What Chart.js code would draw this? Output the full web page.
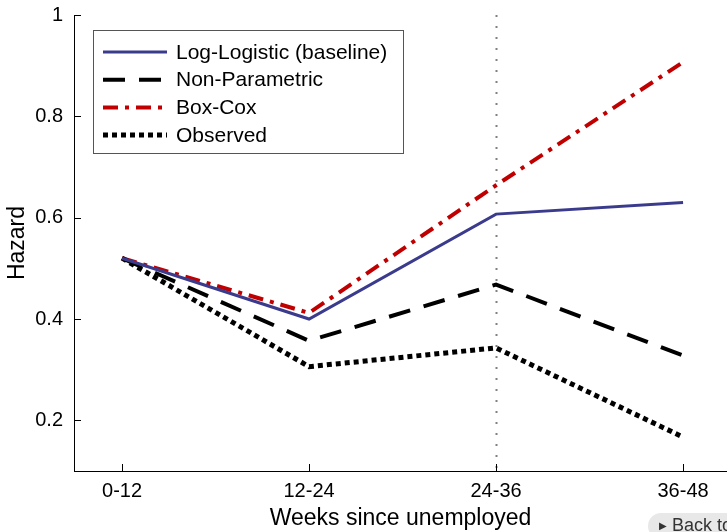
<!DOCTYPE html>
<html>

<head>
    <meta charset="utf-8">
    <script src="https://cdn.jsdelivr.net/npm/chart.js@4/dist/chart.umd.min.js"></script>
    <style>
        body { margin: 0; overflow: hidden; background: #fff; }
        #box { position: relative; width: 727px; height: 532px; }
        #back {
            position: absolute; left: 648px; top: 513px; height: 26px; width: 120px;
            border-radius: 13px; background: #e8e8e8; color: #333;
            font: 18px "Liberation Sans", Arial, sans-serif; line-height: 24px;
            padding-left: 11px; white-space: nowrap; box-sizing: border-box;
        }
        #back span { font-size: 10px; vertical-align: 2px; margin-right: 5px; }
    </style>
</head>

<body>
    <div id="box">
        <canvas id="wykres" width="727" height="532"></canvas>
        <div id="back"><span>&#9654;</span>Back to top</div>
    </div>
    <script>
        // hazard by unemployment duration, four models
        const weeks = ["0-12", "12-24", "24-36", "36-48"];
        const logLogistic = [0.52, 0.40, 0.607, 0.63];
        const nonParametric = [0.52, 0.357, 0.468, 0.328];
        const boxCox = [0.52, 0.412, 0.664, 0.907];
        const observed = [0.52, 0.306, 0.343, 0.167];
        const hazardTicks = [0.2, 0.4, 0.6, 0.8, 1];
        const markedWeek = 2; // dotted vertical line at 24-36

        const font = "'Liberation Sans', Arial, sans-serif";

        function punkty(values) {
            return values.map((v, i) => ({ x: i, y: v }));
        }

        const dane = {
            datasets: [
                { label: "Log-Logistic (baseline)", data: punkty(logLogistic), borderColor: "#3b3b8e", borderWidth: 3 },
                { label: "Non-Parametric", data: punkty(nonParametric), borderColor: "#000", borderWidth: 4, borderDash: [22, 14] },
                { label: "Box-Cox", data: punkty(boxCox), borderColor: "#c00000", borderWidth: 4, borderDash: [15, 7, 4, 7] },
                { label: "Observed", data: punkty(observed), borderColor: "#000", borderWidth: 5, borderDash: [5, 4] }
            ]
        };

        // inward tick marks, the vertical marker and the boxed legend
        const dodatki = {
            id: "dodatki",
            beforeDatasetsDraw(chart) {
                const { ctx, chartArea: a, scales: { x } } = chart;
                const px = Math.round(x.getPixelForValue(markedWeek)) + 0.5;
                ctx.save();
                ctx.strokeStyle = "#808080";
                ctx.lineWidth = 2;
                ctx.setLineDash([2, 9]);
                ctx.beginPath();
                ctx.moveTo(px, a.top);
                ctx.lineTo(px, a.bottom);
                ctx.stroke();
                ctx.restore();
            },
            afterDraw(chart) {
                const { ctx, chartArea: a, scales: { x, y } } = chart;
                ctx.save();
                ctx.strokeStyle = "#000";
                ctx.lineWidth = 1;
                y.ticks.forEach(t => {
                    const py = Math.round(y.getPixelForValue(t.value)) + 0.5;
                    ctx.beginPath();
                    ctx.moveTo(a.left, py);
                    ctx.lineTo(a.left + 7, py);
                    ctx.stroke();
                });
                x.ticks.forEach(t => {
                    const px = Math.round(x.getPixelForValue(t.value)) + 0.5;
                    ctx.beginPath();
                    ctx.moveTo(px, a.bottom);
                    ctx.lineTo(px, a.bottom - 7);
                    ctx.stroke();
                });

                // legend
                const lx = 93.5, ly = 30.5, lw = 310, lh = 123;
                ctx.fillStyle = "#fff";
                ctx.fillRect(lx, ly, lw, lh);
                ctx.strokeStyle = "#555";
                ctx.strokeRect(lx, ly, lw, lh);
                ctx.font = "21px " + font;
                ctx.textBaseline = "middle";
                chart.data.datasets.forEach((ds, i) => {
                    const ry = 52 + i * 27.7;
                    ctx.strokeStyle = ds.borderColor;
                    ctx.lineWidth = ds.borderWidth;
                    ctx.setLineDash(ds.borderDash || []);
                    ctx.beginPath();
                    ctx.moveTo(103, ry);
                    ctx.lineTo(167, ry);
                    ctx.stroke();
                    ctx.setLineDash([]);
                    ctx.fillStyle = "#000";
                    ctx.fillText(ds.label, 176, ry + 1);
                });
                ctx.restore();
            }
        };

        const ctx = document.getElementById("wykres").getContext("2d");
        const wykres = new Chart(ctx, {
            type: "line",
            data: dane,
            plugins: [dodatki],
            options: {
                responsive: false,
                animation: false,
                layout: { padding: { top: 15, right: 0, left: 0, bottom: 0 } },
                elements: {
                    line: { tension: 0, fill: false, borderCapStyle: "butt", borderJoinStyle: "miter" },
                    point: { radius: 0 }
                },
                plugins: { legend: { display: false }, tooltip: { enabled: false } },
                scales: {
                    x: {
                        type: "linear",
                        min: -0.257,
                        max: 3.235,
                        afterBuildTicks: s => { s.ticks = weeks.map((w, i) => ({ value: i })); },
                        afterFit: s => { s.height = 61; },
                        grid: { drawOnChartArea: false, drawTicks: false },
                        border: { display: true, color: "#000", width: 1 },
                        ticks: {
                            padding: 8, color: "#000", font: { family: font, size: 20 },
                            maxRotation: 0, autoSkip: false,
                            callback: v => weeks[v]
                        },
                        title: {
                            display: true, text: "Weeks since unemployed", color: "#000",
                            font: { family: font, size: 23 }, padding: { top: 0, bottom: 0 }
                        }
                    },
                    y: {
                        min: 0.1,
                        max: 1,
                        afterBuildTicks: s => { s.ticks = hazardTicks.map(v => ({ value: v })); },
                        afterFit: s => { s.width = 74; s.paddingTop = 0; s.paddingBottom = 0; },
                        grid: { drawOnChartArea: false, drawTicks: false },
                        border: { display: true, color: "#000", width: 1 },
                        ticks: {
                            padding: 11, color: "#000", font: { family: font, size: 20 },
                            callback: v => String(v)
                        },
                        title: {
                            display: true, text: "Hazard", color: "#000",
                            font: { family: font, size: 23 }, padding: { top: 4, bottom: 0 }
                        }
                    }
                }
            }
        });
    </script>
</body>

</html>
